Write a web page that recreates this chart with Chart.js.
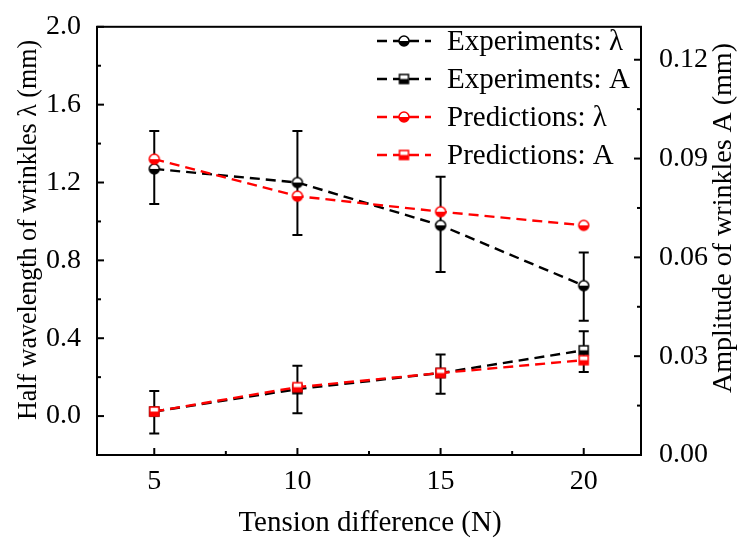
<!DOCTYPE html>
<html>
<head>
<meta charset="utf-8">
<script src="https://cdn.jsdelivr.net/npm/chart.js@4.4.1/dist/chart.umd.min.js"></script>
<style>
  html, body { margin: 0; padding: 0; background: #fff; }
  canvas { display: block; }
</style>
</head>
<body>
<canvas id="wrinkles" width="737" height="541"></canvas>
<script>
// data
const tension = [5, 10, 15, 20];
const expLambda = [1.27, 1.20, 0.98, 0.67];
const expLambdaLow = [1.09, 0.93, 0.74, 0.49];
const expLambdaHigh = [1.465, 1.465, 1.23, 0.84];
const expA = [0.0132, 0.0200, 0.0249, 0.0318];
const expALow = [0.0065, 0.0127, 0.0186, 0.0252];
const expAHigh = [0.0194, 0.0271, 0.0305, 0.0376];
const predLambda = [1.32, 1.13, 1.05, 0.98];
const predA = [0.0132, 0.0206, 0.0249, 0.0288];

const xTicks = [5, 10, 15, 20];
const lambdaTicks = [0.0, 0.4, 0.8, 1.2, 1.6, 2.0];
const ampTicks = [0.00, 0.03, 0.06, 0.09, 0.12];

const xTitle = 'Tension difference (N)';
const lambdaTitle = 'Half wavelength of wrinkles λ (mm)';
const ampTitle = 'Amplitude of wrinkles A (mm)';

const FONT = '"Liberation Serif", "Times New Roman", serif';

function pts(ys) {
  return tension.map((x, i) => ({ x: x, y: ys[i] }));
}

// half filled marker (top white, bottom coloured)
function halfMarker(shape, color, size) {
  const c = document.createElement('canvas');
  const s = size + 4;
  c.width = s; c.height = s;
  const g = c.getContext('2d');
  const m = s / 2, r = size / 2;
  g.lineWidth = 1.5;
  g.strokeStyle = color;
  if (shape === 'circle') {
    g.beginPath(); g.arc(m, m, r, 0, 2 * Math.PI); g.fillStyle = '#fff'; g.fill();
    g.beginPath(); g.arc(m, m, r, 0, Math.PI); g.closePath(); g.fillStyle = color; g.fill();
    g.beginPath(); g.arc(m, m, r, 0, 2 * Math.PI); g.stroke();
  } else {
    g.fillStyle = '#fff'; g.fillRect(m - r, m - r, size, size);
    g.fillStyle = color; g.fillRect(m - r, m, size, r);
    g.strokeRect(m - r, m - r, size, size);
  }
  return c;
}

const errorBars = {
  id: 'errorBars',
  beforeDatasetsDraw(chart) {
    const ctx = chart.ctx;
    ctx.save();
    ctx.strokeStyle = '#000';
    ctx.lineWidth = 2;
    chart.data.datasets.forEach(ds => {
      if (!ds.errLow) return;
      const ys = chart.scales[ds.yAxisID];
      const xs = chart.scales.x;
      ds.data.forEach((p, i) => {
        const px = xs.getPixelForValue(p.x);
        const lo = ys.getPixelForValue(ds.errLow[i]);
        const hi = ys.getPixelForValue(ds.errHigh[i]);
        ctx.beginPath();
        ctx.moveTo(px, lo); ctx.lineTo(px, hi);
        ctx.moveTo(px - 5, lo); ctx.lineTo(px + 5, lo);
        ctx.moveTo(px - 5, hi); ctx.lineTo(px + 5, hi);
        ctx.stroke();
      });
    });
    ctx.restore();
  }
};

// frame + inward ticks + axis titles
const frame = {
  id: 'frame',
  afterDraw(chart) {
    const { ctx, chartArea: a } = chart;
    ctx.save();
    ctx.strokeStyle = '#000';
    ctx.lineWidth = 2;
    ctx.strokeRect(a.left, a.top, a.right - a.left, a.bottom - a.top);
    const tick = (scale, v, len, side) => {
      const p = scale.getPixelForValue(v);
      ctx.beginPath();
      if (side === 'bottom') { ctx.moveTo(p, a.bottom); ctx.lineTo(p, a.bottom - len); }
      if (side === 'left') { ctx.moveTo(a.left, p); ctx.lineTo(a.left + len, p); }
      if (side === 'right') { ctx.moveTo(a.right, p); ctx.lineTo(a.right - len, p); }
      ctx.stroke();
    };
    const doAxis = (scale, vals, side) => {
      vals.forEach(v => tick(scale, v, 7, side));
      for (let i = 0; i < vals.length - 1; i++) tick(scale, (vals[i] + vals[i + 1]) / 2, 4, side);
    };
    doAxis(chart.scales.x, xTicks, 'bottom');
    doAxis(chart.scales.y, lambdaTicks, 'left');
    doAxis(chart.scales.y1, ampTicks, 'right');

    ctx.fillStyle = '#000';
    ctx.textAlign = 'center';
    ctx.textBaseline = 'alphabetic';
    // bottom title
    ctx.font = '29px ' + FONT;
    ctx.fillText(xTitle, 370, 531);
    // left title (reads bottom to top)
    ctx.save();
    ctx.translate(36, 230);
    ctx.scale(1.08, 1);
    ctx.rotate(-Math.PI / 2);
    ctx.font = '26px ' + FONT;
    ctx.fillText(lambdaTitle, 0, 0);
    ctx.restore();
    // right title (also bottom to top)
    ctx.save();
    ctx.translate(731, 218);
    ctx.rotate(-Math.PI / 2);
    ctx.font = '28px ' + FONT;
    ctx.fillText(ampTitle, 0, 0);
    ctx.restore();
    ctx.restore();
  }
};

const legendBox = {
  id: 'legendBox',
  afterDraw(chart) {
    const ctx = chart.ctx;
    ctx.save();
    ctx.font = '29px ' + FONT;
    ctx.textBaseline = 'middle';
    chart.data.datasets.forEach((ds, i) => {
      const y = 41 + i * 38;
      ctx.strokeStyle = ds.borderColor;
      ctx.lineWidth = 2.4;
      ctx.setLineDash([10, 6]);
      ctx.beginPath(); ctx.moveTo(377, y); ctx.lineTo(431, y); ctx.stroke();
      ctx.setLineDash([]);
      const img = ds.pointStyle;
      ctx.drawImage(img, 404 - img.width / 2, y - img.height / 2);
      ctx.fillStyle = '#000';
      ctx.fillText(ds.label, 447, y + 1);
    });
    ctx.restore();
  }
};

const tickFont = { family: FONT, size: 28 };

new Chart(document.getElementById('wrinkles'), {
  type: 'line',
  data: {
    datasets: [
      { label: 'Experiments: λ', data: pts(expLambda), yAxisID: 'y', borderColor: '#000',
        pointStyle: halfMarker('circle', '#000', 10), errLow: expLambdaLow, errHigh: expLambdaHigh, order: 2 },
      { label: 'Experiments: A', data: pts(expA), yAxisID: 'y1', borderColor: '#000',
        pointStyle: halfMarker('rect', '#000', 9), errLow: expALow, errHigh: expAHigh, order: 3 },
      { label: 'Predictions: λ', data: pts(predLambda), yAxisID: 'y', borderColor: '#ff0000',
        pointStyle: halfMarker('circle', '#ff0000', 10), order: 0 },
      { label: 'Predictions: A', data: pts(predA), yAxisID: 'y1', borderColor: '#ff0000',
        pointStyle: halfMarker('rect', '#ff0000', 9), order: 1 }
    ]
  },
  options: {
    responsive: false,
    devicePixelRatio: 1,
    animation: false,
    layout: { padding: { top: 19, left: 0, right: 0, bottom: 0 } },
    elements: {
      line: { borderWidth: 2.4, borderDash: [10, 6], tension: 0, fill: false },
      point: { radius: 5, hoverRadius: 5 }
    },
    plugins: { legend: { display: false }, tooltip: { enabled: false } },
    scales: {
      x: {
        type: 'linear', position: 'bottom', min: 3, max: 22,
        afterBuildTicks: s => { s.ticks = xTicks.map(v => ({ value: v })); },
        afterFit: s => { s.height = 86; },
        grid: { display: false }, border: { display: false },
        ticks: { font: tickFont, color: '#000', padding: 2 }
      },
      y: {
        type: 'linear', position: 'left', min: -0.2, max: 2.0,
        afterBuildTicks: s => { s.ticks = lambdaTicks.map(v => ({ value: v })); },
        afterFit: s => { s.width = 97; },
        grid: { display: false }, border: { display: false },
        ticks: { font: tickFont, color: '#000', padding: 8, callback: v => v.toFixed(1) }
      },
      y1: {
        type: 'linear', position: 'right', min: 0, max: 0.13,
        afterBuildTicks: s => { s.ticks = ampTicks.map(v => ({ value: v })); },
        afterFit: s => { s.width = 96; },
        grid: { display: false }, border: { display: false },
        ticks: { font: tickFont, color: '#000', padding: 10, callback: v => v.toFixed(2) }
      }
    }
  },
  plugins: [errorBars, frame, legendBox]
});
</script>
</body>
</html>
